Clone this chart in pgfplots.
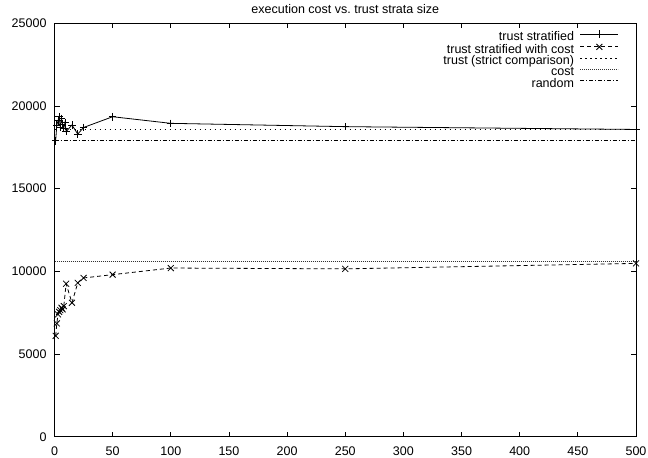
\documentclass[border=0pt]{standalone}
\usepackage{fontspec}
\setmainfont{Liberation Sans}
\usepackage{pgfplots}
\pgfplotsset{compat=1.18}
\pgfplotstableread{
x y
1 17900
2 18850
3 19100
4 19350
5 18700
6 19250
7 18900
8 18650
9 19000
10 18450
15 18850
20 18300
25 18700
50 19350
100 18950
250 18750
500 18580
}\truststrat
\pgfplotstableread{
x y
1 6100
2 6850
3 7400
4 7550
5 7650
6 7800
7 7700
8 7900
10 9250
15 8100
20 9300
25 9600
50 9800
100 10200
250 10150
500 10480
}\trustcost
\begin{document}
\fontsize{12.5bp}{14bp}\selectfont
\begin{tikzpicture}
\begin{axis}[
  name=ax,
  scale only axis, width=581.5bp, height=413.4bp,
  xmin=0, xmax=500, ymin=0, ymax=25000,
  xtick={0,50,...,500}, ytick={0,5000,...,25000},
  tick align=inside, major tick length=5bp,
  scaled ticks=false,
  /pgf/number format/1000 sep={},
  /pgf/number format/assume math mode=true,
  tick label style={font=\fontsize{12.5bp}{14bp}\selectfont},
  xticklabel style={inner sep=0pt, yshift=-10bp},
  yticklabel style={inner sep=0pt, xshift=-7.8bp},
  axis line style={line width=0.8bp},
  every tick/.style={black, line width=0.8bp},
  legend cell align=right, legend plot pos=right,
  legend style={at={(1,1)}, anchor=north east, xshift=-14bp, yshift=-5bp,
    draw=none, fill=none, font=\fontsize{12.5bp}{14bp}\selectfont,
    row sep=0pt, column sep=6bp,
    nodes={inner sep=0pt, text height=8.2bp, text depth=3bp}},
  legend image code/.code={\draw[mark repeat=2,mark phase=2,#1] plot coordinates {(0bp,4bp) (19bp,4bp) (38bp,4bp)};},
]
\addplot[black, line width=0.8bp, mark=+, mark size=3.8bp] table {\truststrat};
\addlegendentry{trust stratified}
\addplot[black, line width=0.8bp, dash pattern=on 4bp off 3bp, mark=x, mark size=4.2bp, mark options={solid}] table {\trustcost};
\addlegendentry{trust stratified with cost}
\addplot[black, line width=0.8bp, dash pattern=on 1.2bp off 3.8bp] coordinates {(0,18600) (500,18600)};
\addlegendentry{trust (strict comparison)}
\addplot[black!80, line width=0.8bp, dash pattern=on 1bp off 1bp] coordinates {(0,10600) (500,10600)};
\addlegendentry{cost}
\addplot[black, line width=0.8bp, dash pattern=on 4bp off 2bp on 1bp off 2bp] coordinates {(0,17900) (500,17900)};
\addlegendentry{random}
\end{axis}
\node[anchor=base, inner sep=0pt, font=\fontsize{12.5bp}{14bp}\selectfont] at ([yshift=10bp]ax.north) {execution cost vs.\ trust strata size};
\pgfresetboundingbox
\path ([shift={(-54.5bp,-21.3bp)}]ax.south west) rectangle ([shift={(12bp,23.3bp)}]ax.north east);
\end{tikzpicture}
\end{document}
